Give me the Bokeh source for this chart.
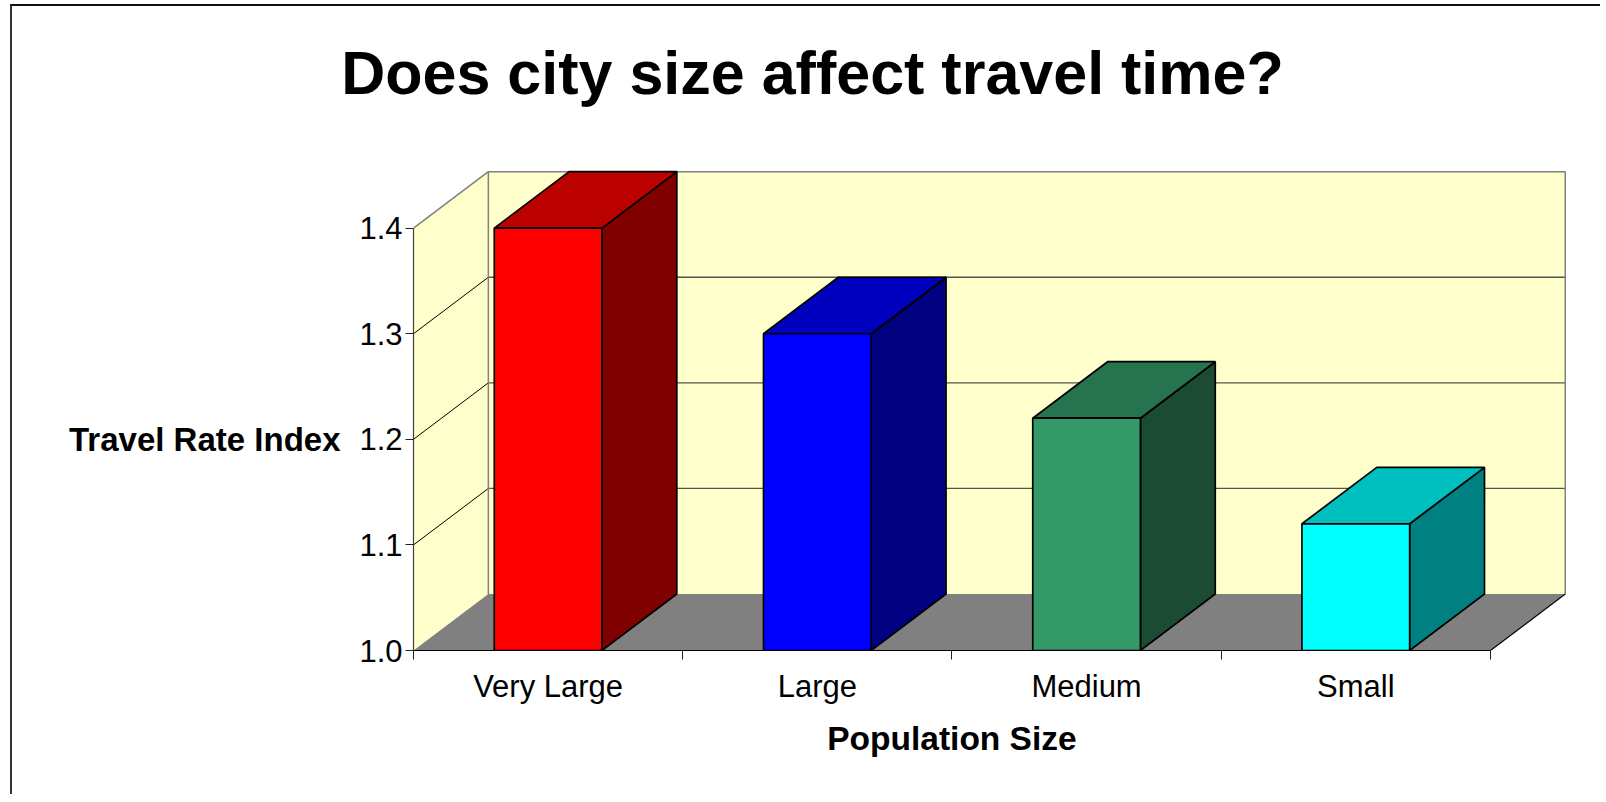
from bokeh.plotting import figure
from bokeh.models import FixedTicker, LinearAxis, Range1d, PrintfTickFormatter
from bokeh.embed import file_html
from bokeh.resources import INLINE

# ---------------- data ----------------
categories = ["Very Large", "Large", "Medium", "Small"]
values = [1.40, 1.30, 1.22, 1.12]
front_colors = ["#FF0000", "#0000FF", "#339966", "#00FFFF"]
top_colors = ["#BB0000", "#0000BF", "#267350", "#00BFBF"]
side_colors = ["#800000", "#000080", "#1B4B33", "#008080"]
y_ticks = [1.0, 1.1, 1.2, 1.3, 1.4]
title_text = "Does city size affect travel time?"
y_label = "Travel Rate Index"
x_label = "Population Size"

# ---------------- geometry (3-D look) ----------------
Y0, Y1 = y_ticks[0], y_ticks[-1]
N = len(categories)
DX, DY = 0.278, 0.0535       # depth offset in data units
BAR_OFF, BAR_W = 0.3, 0.4    # bar front face inside each category slot
PADX, PADY = 0.012, 0.003
TITLE_X = 1.482              # horizontal centre of the title (x data units)
FONT = "Liberation Sans"
TICK_FS = "31px"

W, H = 1590, 790
p = figure(width=W, height=H, output_backend="svg", toolbar_location=None,
           x_range=Range1d(0, N + DX + PADX), y_range=Range1d(Y0, Y1 + DY + PADY),
           x_axis_type=None, y_axis_type=None,
           min_border_left=401, min_border_right=34, min_border_top=162, min_border_bottom=146)
p.outline_line_color = None
p.background_fill_color = "white"
p.border_fill_color = "white"
p.styles = {"border-left": "2px solid #333333", "border-top": "2px solid #111111",
            "margin-left": "10px", "margin-top": "4px"}

WALL = "#FFFFCC"
FLOOR = "#808080"
EDGE = "#808080"

# left wall
p.patch([0, 0, DX, DX], [Y0, Y1, Y1 + DY, Y0 + DY], fill_color=WALL, line_color=None)
# back wall
p.quad(left=[DX], right=[N + DX], bottom=[Y0 + DY], top=[Y1 + DY], fill_color=WALL, line_color=None)
# floor
p.patch([0, N, N + DX, DX], [Y0, Y0, Y0 + DY, Y0 + DY], fill_color=FLOOR, line_color=None)

# gridlines on walls
inner = y_ticks[1:-1]
p.multi_line([[0, DX] for t in inner], [[t, t + DY] for t in inner], line_color="black", line_width=1)
p.multi_line([[DX, N + DX] for t in inner], [[t + DY, t + DY] for t in inner],
             line_color="#55554a", line_width=1.3)

# wall edges
p.line([DX, DX, N + DX, N + DX], [Y0 + DY, Y1 + DY, Y1 + DY, Y0 + DY], line_color=EDGE, line_width=1.5)
p.line([0, DX], [Y1, Y1 + DY], line_color=EDGE, line_width=1.5)
p.line([N, N + DX], [Y0, Y0 + DY], line_color="black", line_width=1.2)

# bars
for i, v in enumerate(values):
    l = i + BAR_OFF
    r = l + BAR_W
    p.patch([r, r, r + DX, r + DX], [Y0, v, v + DY, Y0 + DY],
            fill_color=side_colors[i], line_color="black", line_width=1.7)
    p.patch([l, r, r + DX, l + DX], [v, v, v + DY, v + DY],
            fill_color=top_colors[i], line_color="black", line_width=1.7)
    p.quad(left=[l], right=[r], bottom=[Y0], top=[v],
           fill_color=front_colors[i], line_color="black", line_width=1.7)

# y axis
yaxis = LinearAxis(ticker=FixedTicker(ticks=y_ticks), bounds=(Y0, Y1),
                   formatter=PrintfTickFormatter(format="%.1f"))
yaxis.axis_line_color = "#404040"
yaxis.axis_line_width = 1.2
yaxis.major_tick_out = 8
yaxis.major_tick_in = 0
yaxis.major_tick_line_color = "#222222"
yaxis.minor_tick_line_color = None
yaxis.major_label_standoff = 3
yaxis.major_label_text_font = FONT
yaxis.major_label_text_font_size = TICK_FS
yaxis.major_label_text_color = "black"
p.add_layout(yaxis, "left")

# y-axis title, horizontal, level with the middle tick
ymid = y_ticks[len(y_ticks) // 2]
ytitle = LinearAxis(ticker=FixedTicker(ticks=[ymid]), bounds=(Y0, Y1))
ytitle.major_label_overrides = {ymid: y_label}
ytitle.axis_line_color = None
ytitle.major_tick_line_color = None
ytitle.minor_tick_line_color = None
ytitle.major_tick_out = 0
ytitle.major_tick_in = 0
ytitle.major_label_standoff = 16
ytitle.major_label_text_font = FONT
ytitle.major_label_text_font_size = "33px"
ytitle.major_label_text_font_style = "bold"
ytitle.major_label_text_color = "black"
p.add_layout(ytitle, "left")

# x axis: labels at slot centres, ticks at slot boundaries
centers = [i + 0.5 for i in range(N)]
bounds = [float(i) for i in range(N + 1)]
xaxis = LinearAxis(ticker=FixedTicker(ticks=centers, minor_ticks=bounds), bounds=(0, N))
xaxis.major_label_overrides = {c: name for c, name in zip(centers, categories)}
xaxis.axis_line_color = "black"
xaxis.axis_line_width = 1.2
xaxis.major_tick_out = 0
xaxis.major_tick_in = 0
xaxis.minor_tick_out = 9
xaxis.minor_tick_in = 0
xaxis.minor_tick_line_color = "#222222"
xaxis.major_label_standoff = 9
xaxis.major_label_text_font = FONT
xaxis.major_label_text_font_size = TICK_FS
xaxis.major_label_text_color = "black"
p.add_layout(xaxis, "below")

# x-axis title, centred under the category slots
xmid = N / 2
xtitle = LinearAxis(ticker=FixedTicker(ticks=[xmid]), bounds=(0, N))
xtitle.major_label_overrides = {xmid: x_label}
xtitle.axis_line_color = None
xtitle.major_tick_line_color = None
xtitle.minor_tick_line_color = None
xtitle.major_tick_out = 0
xtitle.major_tick_in = 0
xtitle.major_label_standoff = 13
xtitle.major_label_text_font = FONT
xtitle.major_label_text_font_size = "33.5px"
xtitle.major_label_text_font_style = "bold"
xtitle.major_label_text_color = "black"
p.add_layout(xtitle, "below")

# chart title
ttl = LinearAxis(ticker=FixedTicker(ticks=[TITLE_X]), bounds=(0, N + DX))
ttl.major_label_overrides = {TITLE_X: title_text}
ttl.axis_line_color = None
ttl.major_tick_line_color = None
ttl.minor_tick_line_color = None
ttl.major_tick_out = 0
ttl.major_tick_in = 0
ttl.major_label_standoff = 62
ttl.major_label_text_font = FONT
ttl.major_label_text_font_size = "61px"
ttl.major_label_text_font_style = "bold"
ttl.major_label_text_color = "black"
p.add_layout(ttl, "above")

open("out.html", "w").write(file_html(p, INLINE))
